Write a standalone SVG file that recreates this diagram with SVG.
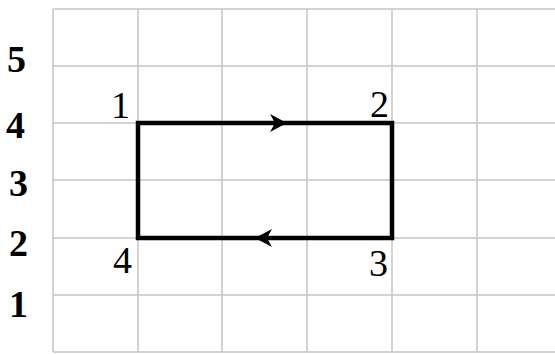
<svg xmlns="http://www.w3.org/2000/svg" width="555" height="354" viewBox="0 0 555 354">
<style>
.grid line{stroke:#c4c4c4;stroke-width:1.5}
.path{fill:none;stroke:#000;stroke-width:4.5;stroke-linejoin:miter;stroke-linecap:square}
.axis{font-family:"Liberation Serif","Times New Roman",serif;font-weight:bold;font-size:38px;fill:#000}
.corner{font-family:"Liberation Serif","Times New Roman",serif;font-size:38px;fill:#000}
.head{fill:#000}
</style>
<rect width="555" height="354" fill="#fff"/>
<g id="grid" class="grid">
<line x1="53" y1="9" x2="555" y2="9"/>
<line x1="53" y1="66" x2="555" y2="66"/>
<line x1="53" y1="123" x2="555" y2="123"/>
<line x1="53" y1="180" x2="555" y2="180"/>
<line x1="53" y1="238" x2="555" y2="238"/>
<line x1="53" y1="295" x2="555" y2="295"/>
<line x1="53" y1="352" x2="555" y2="352"/>
<line x1="53" y1="9" x2="53" y2="352"/>
<line x1="138" y1="9" x2="138" y2="352"/>
<line x1="222" y1="9" x2="222" y2="352"/>
<line x1="307" y1="9" x2="307" y2="352"/>
<line x1="392" y1="9" x2="392" y2="352"/>
<line x1="477" y1="9" x2="477" y2="352"/>
</g>
<g id="axis-labels" class="axis">
<text x="7" y="72">5</text>
<text x="6" y="138">4</text>
<text x="9" y="196">3</text>
<text x="9" y="256">2</text>
<text x="9" y="317">1</text>
</g>
<g id="connectors">
<path class="path" d="M138,123 H392 V238 H138 Z"/>
<path class="head" d="M287,123 L270,114 L275,123 L270,132 Z"/>
<path class="head" d="M255,238 L272,229 L267,238 L272,247 Z"/>
</g>
<g id="node-1"><text class="corner" x="130" y="118" text-anchor="end">1</text></g>
<g id="node-2"><text class="corner" x="389" y="117" text-anchor="end">2</text></g>
<g id="node-3"><text class="corner" x="388" y="276" text-anchor="end">3</text></g>
<g id="node-4"><text class="corner" x="132" y="273" text-anchor="end">4</text></g>
</svg>
